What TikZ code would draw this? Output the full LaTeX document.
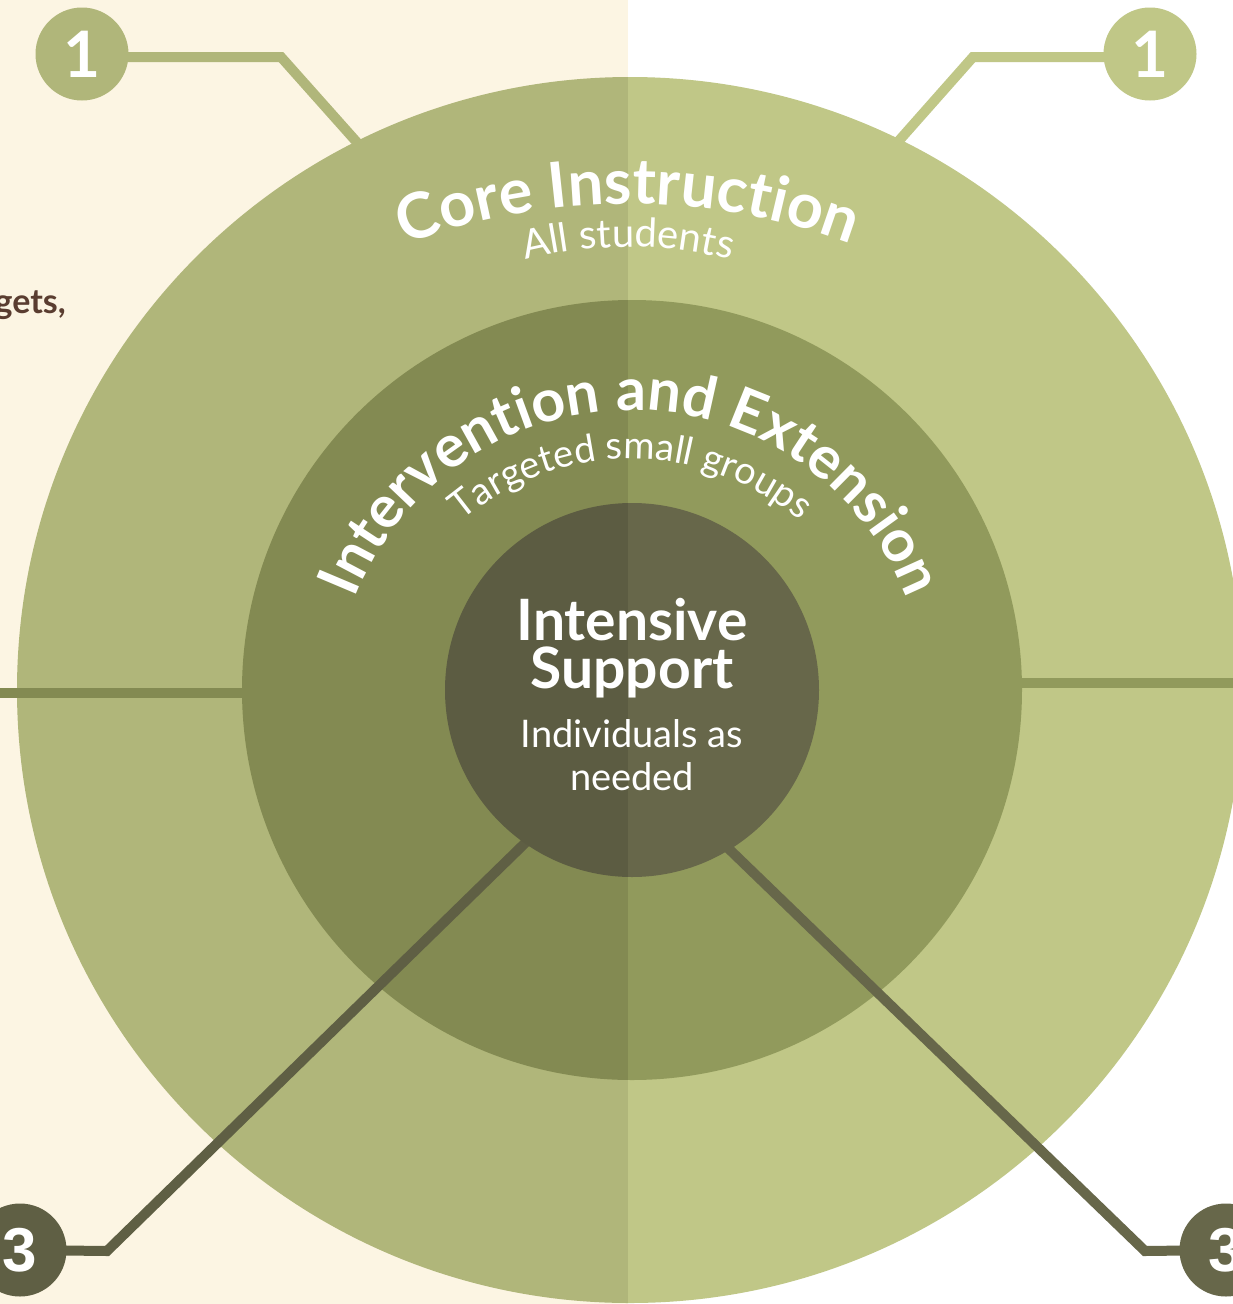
\documentclass[tikz,border=0pt]{standalone}
\usepackage{fontspec}
\setmainfont{Lato}
\newfontfamily\badgefont{Liberation Sans}
\usetikzlibrary{decorations.text}
\definecolor{cream}{HTML}{FCF5E3}
\definecolor{outerL}{HTML}{B0B67A}
\definecolor{outerR}{HTML}{C0C787}
\definecolor{midL}{HTML}{838A52}
\definecolor{midR}{HTML}{919A5C}
\definecolor{innL}{HTML}{5C5C42}
\definecolor{innR}{HTML}{67674A}
\definecolor{badgeL}{HTML}{5F5F44}
\definecolor{brownT}{HTML}{5A3D30}
\pgfdeclarelayer{back}
\pgfdeclarelayer{ringA}
\pgfdeclarelayer{hlines}
\pgfdeclarelayer{ringB}
\pgfdeclarelayer{lower}
\pgfdeclarelayer{ringC}
\pgfsetlayers{back,ringA,hlines,ringB,lower,ringC,main}
\begin{document}
\begin{tikzpicture}[x=1pt,y=1pt,
  badge/.style={circle, minimum size=93pt, inner sep=0pt, text=white},
  onebadge/.style={badge, font=\fontsize{64}{64}\selectfont\bfseries},
  threebadge/.style={badge, font=\badgefont\fontsize{62}{62}\selectfont\bfseries},
  conn/.style={line width=10pt, line join=miter},
  ring/.style={circle, inner sep=0pt, minimum size=#1},
  arctext/.style={decorate, decoration={text along path, text align=center, text color=white, text={#1}}},
  label/.style={text=white, anchor=base, inner sep=0pt},
]
\useasboundingbox (0,0) rectangle (1233,-1304);

% ring nodes (geometry)
\node[ring=1226pt] (outer) at (630,-690) {};
\node[ring=780pt]  (mid)   at (632,-690) {};
\node[ring=374pt]  (inner) at (632,-690) {};

% badges
\node[onebadge, fill=outerL] (b1L) at (82,-54) {1};
\node[onebadge, fill=outerR] (b1R) at (1150,-54) {1};
\node[threebadge, fill=badgeL] (b3L) at (20,-1250) {3};
\node[threebadge, fill=innR] (b3R) at (1226,-1250) {3};

% free ends of connectors
\coordinate (e1L) at (362,-148);
\coordinate (e1R) at (896,-144);
\coordinate (e3L) at (560,-809);
\coordinate (e3R) at (700,-821);
\coordinate (hlL) at (0,-693);
\coordinate (hlR) at (1240,-683);

\begin{pgfonlayer}{back}
  \fill[cream] (0,0) rectangle (628,-1304);
  \fill[white] (628,0) rectangle (1233,-1304);
  \draw[conn, outerL] ([yshift=-3pt]b1L.center) -- (281,-57) -- (e1L);
  \draw[conn, outerR] ([yshift=-3pt]b1R.center) -- (973,-57) -- (e1R);
\end{pgfonlayer}

\begin{pgfonlayer}{ringA}
  \begin{scope}
    \clip (-10,10) rectangle (628,-1400);
    \fill[outerL] (outer.center) circle[radius=613];
  \end{scope}
  \begin{scope}
    \clip (628,10) rectangle (1300,-1400);
    \fill[outerR] (outer.center) circle[radius=613];
  \end{scope}
\end{pgfonlayer}

\begin{pgfonlayer}{hlines}
  \draw[line width=10pt, midL] (hlL) -- (hlL -| mid.center);
  \draw[line width=10pt, midR] (hlR) -- (hlR -| mid.center);
\end{pgfonlayer}

\begin{pgfonlayer}{ringB}
  \begin{scope}
    \clip (-10,10) rectangle (628,-1400);
    \fill[midL] (mid.center) circle[radius=390];
  \end{scope}
  \begin{scope}
    \clip (628,10) rectangle (1300,-1400);
    \fill[midR] (mid.center) circle[radius=390];
  \end{scope}
\end{pgfonlayer}

\begin{pgfonlayer}{lower}
  \draw[conn, badgeL] (e3L) -- (107,-1251) -- (b3L.center);
  \draw[conn, innR] (e3R) -- (1145,-1251) -- (b3R.center);
\end{pgfonlayer}

\begin{pgfonlayer}{ringC}
  \begin{scope}
    \clip (-10,10) rectangle (628,-1400);
    \fill[innL] (inner.center) circle[radius=187];
  \end{scope}
  \begin{scope}
    \clip (628,10) rectangle (1300,-1400);
    \fill[innR] (inner.center) circle[radius=187];
  \end{scope}
\end{pgfonlayer}

% side text
\node[anchor=base east, inner sep=0pt, text=brownT, font=\fontsize{34}{34}\selectfont\bfseries] (gets) at (66,-313) {gets,};

% curved titles
\path[arctext={|\fontsize{63}{63}\selectfont\bfseries|Core Instruction}]
  (628,-842) ++(120:638) arc[start angle=120, end angle=60, radius=638];
\path[arctext={|\fontsize{40}{40}\selectfont|All students}]
  (628,-667) ++(125:420) arc[start angle=125, end angle=55, radius=420];
\path[arctext={|\fontsize{59}{59}\selectfont\bfseries|Intervention and Extension}]
  (631,-706) ++(180:296) arc[start angle=180, end angle=0, radius=296];
\path[arctext={|\fontsize{38}{38}\selectfont|Targeted small groups}]
  (631,-721) ++(160:262) arc[start angle=160, end angle=20, radius=262];

% centre text
\node[label, font=\fontsize{57}{57}\selectfont\bfseries] (t1) at (632,-640) {Intensive};
\node[label, font=\fontsize{57}{57}\selectfont\bfseries] (t2) at (632,-688) {Support};
\node[label, font=\fontsize{38}{38}\selectfont] (t3) at (632,-747) {Individuals as};
\node[label, font=\fontsize{38}{38}\selectfont] (t4) at (632,-790) {needed};
\end{tikzpicture}
\end{document}
